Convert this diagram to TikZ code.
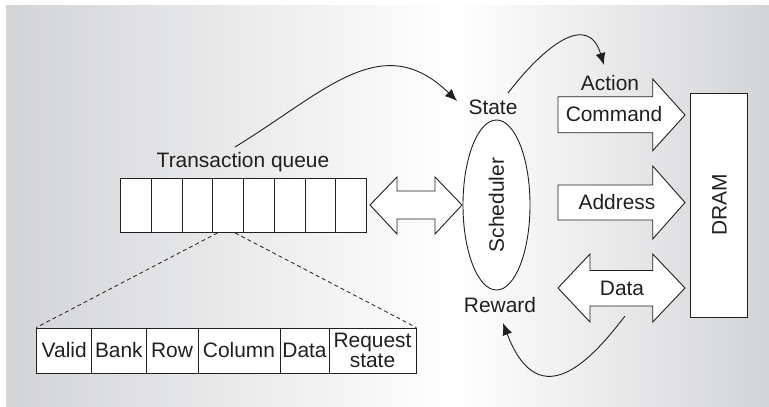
\documentclass[tikz,border=0pt]{standalone}
\usepackage{fontspec}
\setmainfont{Liberation Sans}
\usetikzlibrary{ arrows.meta, % For the filled arrow tips
                 shapes,      % For the ellipse
               }
\definecolor{panelgray}{RGB}{211,212,214}
\definecolor{inkgray}{RGB}{35,31,32}

\tikzset{
  cell/.style={draw=inkgray, fill=white, line width=0.9bp, minimum height=54bp,
               minimum width=30.75bp, inner sep=0pt},
  field/.style={draw=inkgray, fill=white, line width=0.9bp, minimum height=45bp,
                inner sep=0pt, text=inkgray},
  fatarrow/.style={draw=inkgray, fill=white, line width=0.9bp, line join=miter},
  flow/.style={draw=inkgray, line width=0.9bp, -{Latex[length=12bp,width=10bp]}},
  zoomline/.style={draw=inkgray, line width=0.8bp, dash pattern=on 4bp off 3bp},
  lbl/.style={text=inkgray, inner sep=0pt},
}

\begin{document}
\begin{tikzpicture}[x=1bp, y=-1bp, font=\fontsize{21}{23}\selectfont]
  \useasboundingbox (0,0) rectangle (769,406);
  \fill[white] (0,0) rectangle (769,406);
  \fill[left color=panelgray, right color=white] (6,5) rectangle (455,406);
  \fill[left color=white, right color=panelgray] (455,5) rectangle (769,406);

  % transaction queue
  \node[lbl] (tqlabel) at (243,162) {Transaction queue};
  \node[cell] (q1) at (136.1,205.5) {};
  \node[cell] (q2) at (166.8,205.5) {};
  \node[cell] (q3) at (197.6,205.5) {};
  \node[cell] (q4) at (228.3,205.5) {};
  \node[cell] (q5) at (259.1,205.5) {};
  \node[cell] (q6) at (289.8,205.5) {};
  \node[cell] (q7) at (320.6,205.5) {};
  \node[cell] (q8) at (351.3,205.5) {};

  % one entry of the queue
  \node[field, minimum width=55bp] (valid) at (64.2,350.5) {Valid};
  \node[field, minimum width=54.3bp] (bank) at (118.85,350.5) {Bank};
  \node[field, minimum width=52bp] (row) at (172,350.5) {Row};
  \node[field, minimum width=82bp] (column) at (239,350.5) {Column};
  \node[field, minimum width=49bp] (data) at (304.5,350.5) {Data};
  \node[field, minimum width=87bp, align=center,
        font=\fontsize{21}{19.5}\selectfont] (reqstate) at (372.5,350.5) {Request\\state};

  \draw[zoomline] ([xshift=5bp]q4.south west) -- (valid.north west);
  \draw[zoomline] ([xshift=-9bp]q4.south east) -- (reqstate.north east);

  % queue <-> scheduler
  \draw[fatarrow] (370,205) -- (397,177) -- (397,191) -- (435,191) -- (435,177)
    -- (462,205) -- (435,234) -- (435,219) -- (397,219) -- (397,234) -- cycle;

  \node[draw=inkgray, line width=0.9bp, fill=white, ellipse, minimum width=170bp,
        minimum height=67bp, inner sep=0pt, rotate=90, text=inkgray] (sched) at (496.5,205) {Scheduler};
  \node[lbl] (state) at (493,107) {State};
  \node[lbl] (reward) at (500,305) {Reward};

  % scheduler -> DRAM
  \draw[fatarrow] (558,96.7) -- (652.7,96.7) -- (652.7,79) -- (685,115)
    -- (652.7,150.7) -- (652.7,132.7) -- (558,132.7) -- cycle;
  \draw[fatarrow] (558,185) -- (652.7,185) -- (652.7,166) -- (685,202.5)
    -- (652.7,239) -- (652.7,220) -- (558,220) -- cycle;
  \draw[fatarrow] (558,288) -- (590,254) -- (590,270.5) -- (652.7,270.5) -- (652.7,254)
    -- (685,288) -- (652.7,322) -- (652.7,306) -- (590,306) -- (590,322) -- cycle;

  \node[lbl] (action) at (610,83) {Action};
  \node[lbl] (command) at (614,114) {Command};
  \node[lbl] (address) at (617,202.5) {Address};
  \node[lbl] (datalink) at (622,288) {Data};

  \node[draw=inkgray, line width=0.9bp, fill=white, minimum width=224bp,
        minimum height=57bp, inner sep=0pt, rotate=90, text=inkgray] (dram) at (719.4,205) {DRAM};

  % state, action and reward loops
  \coordinate (tqtop) at (235,147);
  \coordinate (statein) at (457,101);
  \coordinate (stateout) at (508,93);
  \coordinate (actionin) at (604,65);
  \coordinate (dataout) at (625,316);
  \coordinate (rewardin) at (503,323);

  \draw[flow] (tqtop) .. controls (325,92) and (382,28) .. (statein);
  \draw[flow] (stateout) .. controls (545,45) and (588,12) .. (actionin);
  \draw[flow] (dataout) .. controls (595,355) and (540,420) .. (rewardin);
\end{tikzpicture}
\end{document}
